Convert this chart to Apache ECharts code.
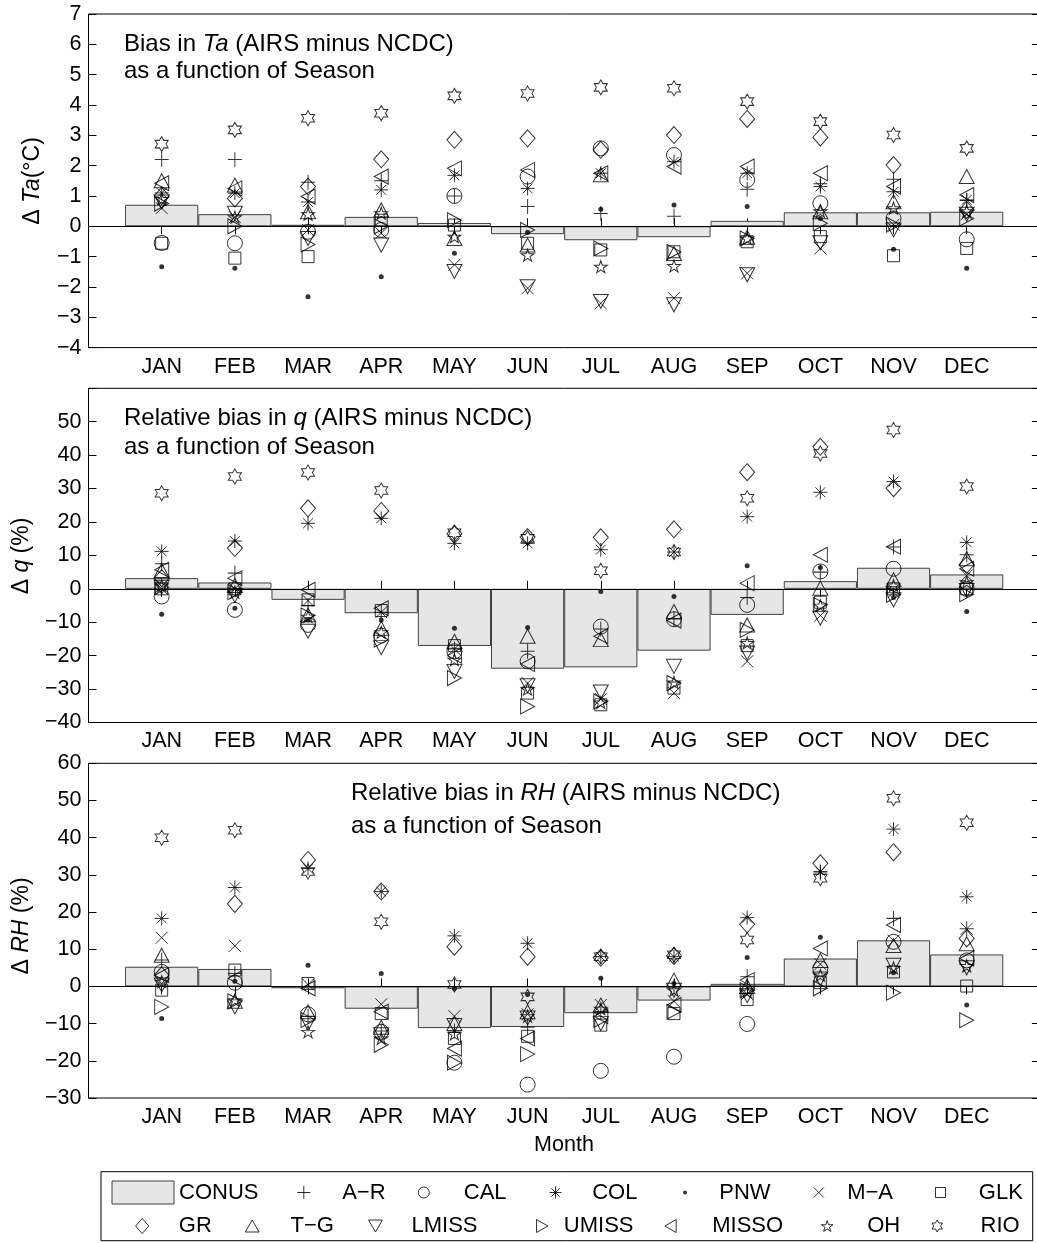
<!DOCTYPE html>
<html><head><meta charset="utf-8">
<script src="https://cdn.jsdelivr.net/npm/echarts@6/dist/echarts.min.js"></script>
<style>html,body{margin:0;padding:0;background:#fff}#c{width:1037px;height:1243px}</style>
</head><body><div id="c"></div>
<script>
// ---------------- DATA ----------------
const months = ['JAN','FEB','MAR','APR','MAY','JUN','JUL','AUG','SEP','OCT','NOV','DEC'];
const legendNames = ['CONUS','A\u2212R','CAL','COL','PNW','M\u2212A','GLK','GR','T\u2212G','LMISS','UMISS','MISSO','OH','RIO'];

const taTicks = [-4,-3,-2,-1,0,1,2,3,4,5,6,7];
const qTicks  = [-40,-30,-20,-10,0,10,20,30,40,50,60];
const rhTicks = [-30,-20,-10,0,10,20,30,40,50,60];

// Panel 1: Bias in Ta (deg C)
const taCONUS = [0.71, 0.40, 0.05, 0.31, 0.11, -0.26, -0.46, -0.36, 0.18, 0.46, 0.46, 0.48];
const taAR    = [2.2, 2.2, 1.45, 1.5, 1.0, 0.65, 0.42, 0.33, 1.22, 1.4, 1.55, 0.85];
const taCAL   = [-0.55, -0.56, -0.18, -0.12, 1.0, 1.64, 2.57, 2.35, 1.53, 0.76, 0.26, -0.43];
const taCOL   = [1.1, 1.09, 0.8, 1.2, 1.68, 1.25, 1.75, 2.13, 1.75, 1.31, 1.14, 0.87];
const taPNW   = [-1.33, -1.38, -2.32, -1.66, -0.89, -0.2, 0.56, 0.7, 0.65, 0.26, -0.76, -1.38];
const taMA    = [0.6, 0.3, -0.12, -0.23, -1.27, -2.04, -2.54, -2.37, -1.55, -0.73, 0.05, 0.4];
const taGLK   = [-0.56, -1.05, -1.0, 0.2, 0.04, -0.56, -0.78, -0.84, -0.51, -0.34, -0.97, -0.73];
const taGR    = [1.0, 0.92, 1.31, 2.21, 2.85, 2.9, 2.52, 3.01, 3.54, 2.93, 2.02, 0.54];
const taTG    = [1.5, 1.36, 0.48, 0.54, -0.4, -0.62, 1.7, -0.9, -0.36, 0.48, 0.81, 1.64];
const taLMISS = [0.8, 0.43, -0.4, -0.62, -1.49, -1.99, -2.48, -2.59, -1.6, -0.54, -0.12, 0.4];
const taUMISS = [0.75, 0.0, -0.6, 0.0, 0.2, -0.12, -0.73, -0.85, -0.4, 0.1, 0.05, 0.26];
const taMISSO = [1.42, 1.25, 0.98, 1.64, 1.91, 1.86, 1.75, 1.97, 1.97, 1.75, 1.31, 1.03];
const taOH    = [0.9, 0.3, 0.4, 0.43, -0.34, -0.95, -1.33, -1.31, -0.4, 0.5, 0.6, 0.5];
const taRIO   = [2.71, 3.18, 3.56, 3.73, 4.3, 4.38, 4.58, 4.55, 4.11, 3.45, 3.01, 2.57];

// Panel 2: Relative bias in q (%)
const qCONUS = [3.2, 1.9, -3.3, -7.3, -17.1, -23.9, -23.5, -18.5, -7.8, 2.3, 6.3, 4.3];
const qAR    = [7.5, 4.7, -5, -7, -18, -18.7, -12, -9, -2.6, 5, 12.5, 10.2];
const qCAL   = [-2.3, -6.3, -10.8, -14, -18.7, -21.7, -11.3, -9.1, -4.8, 5.2, 6.0, 0];
const qCOL   = [11.2, 14.3, 19.6, 21.1, 13.6, 13.6, 11.7, 11.0, 21.6, 28.9, 32.1, 13.9];
const qPNW   = [-7.6, -5.8, -9.3, -9.3, -11.8, -11.6, -0.8, -2.3, 6.9, 6.4, -2.6, -6.8];
const qMA    = [0, 0, -3.5, -7, -18, -28.2, -33, -31.2, -21.7, -8, -1, 4];
const qGLK   = [0, 0, -3.3, -6.5, -17, -31.2, -34.7, -29.7, -17, -4, 0, 0];
const qGR    = [3.2, 12.2, 24.1, 23.3, 16.5, 15.5, 15.4, 17.8, 34.9, 42.5, 30.1, 7.2];
const qTG    = [5.5, 1, -7.8, -11.8, -15.7, -14.2, -15.2, -6.8, -10.8, 0.2, 2.7, 9];
const qLMISS = [0.5, -2, -12.7, -17.6, -24.7, -29, -30.9, -23.2, -19.2, -8.8, -3.3, -0.5];
const qUMISS = [0.5, -1, -8, -15.2, -26.7, -35.2, -33.7, -28.2, -12.3, -4.8, -1.8, -1.6];
const qMISSO = [5.7, 3.2, -0.3, -5.8, -20, -22.5, -14.2, -9.5, 1.7, 10.2, 12.6, 6];
const qOH    = [1, -1, -8.3, -13, -21.2, -30, -34, -28, -16.2, -5, 1, 2];
const qRIO   = [28.6, 33.6, 34.8, 29.4, 16.8, 15.1, 5.4, 11, 27.1, 40.5, 47.5, 30.6];

// Panel 3: Relative bias in RH (%)
const rhCONUS = [5.3, 4.7, -0.5, -6, -11.2, -10.9, -7.2, -3.8, 0.7, 7.5, 12.4, 8.6];
const rhAR    = [7.1, 3.5, -8, -12, -12, -11, -6.8, 0, 2.6, 30.5, 18.3, 15.5];
const rhCAL   = [3.9, 1, -7.5, -12.2, -20.5, -26.4, -22.7, -18.9, -10.1, 4.8, 12, 7];
const rhCOL   = [18.3, 26.6, 31.7, 25.5, 13.6, 11.6, 8, 8, 18.5, 30.9, 42.3, 24.1];
const rhPNW   = [-8.6, 1.4, 5.7, 3.5, -0.5, -2.2, 2.2, 0.8, 7.8, 13.2, 3.7, -5];
const rhMA    = [13.1, 10.9, 0.5, -4.8, -8, -7.5, -5, -4, -2, 6, 12.3, 15.5];
const rhGLK   = [-1, 4.4, 0.8, -7.3, -14, -13.4, -10.4, -7.3, -3.5, 1, 3.9, 0.1];
const rhGR    = [3, 22.2, 34, 25.5, 10.7, 8, 7.7, 8.2, 16.7, 33.1, 36.1, 12.9];
const rhTG    = [8.4, -4, -6.8, -11, -10, -6.8, -5, 1.7, 0, 7, 11, 11.5];
const rhLMISS = [0.4, -5.5, -10, -13, -10.5, -8.5, -10, -1, -2.5, 2, 5.7, 5];
const rhUMISS = [-5.5, -4, -9, -15.7, -20.5, -18.2, -9, -6.8, -1, -0.5, -1.7, -9.1];
const rhMISSO = [3, 2.2, -0.5, -6.8, -16.7, -14, -8, -5, 1.7, 10.2, 16.5, 7.5];
const rhOH    = [1.3, -3.7, -12.2, -14, -12.8, -8, -6, -1, -1.4, 3, 5, 5.5];
const rhRIO   = [40, 42, 30.9, 17.4, 0.5, -2.8, 8, 8.5, 12.5, 29.1, 50.6, 44];

// ---------------- BUILD ----------------
const F = "'Liberation Sans', Arial, Helvetica, sans-serif";
const xCats = [' '].concat(months, ['  ']);
const fmt = v => v < 0 ? '\u2212' + Math.abs(v) : String(v);

function group(c, ar, cal, col, pnw, ma, glk, gr, tg, lm, um, mi, oh, rio) {
  const arrs = [c, ar, cal, col, pnw, ma, glk, gr, tg, lm, um, mi, oh, rio];
  const o = {};
  legendNames.forEach((n, i) => { o[n] = arrs[i]; });
  return o;
}
const panels = [
  { vals: group(taCONUS, taAR, taCAL, taCOL, taPNW, taMA, taGLK, taGR, taTG, taLMISS, taUMISS, taMISSO, taOH, taRIO),
    ticks: taTicks, top: 14, height: 333.6, hideTop: false },
  { vals: group(qCONUS, qAR, qCAL, qCOL, qPNW, qMA, qGLK, qGR, qTG, qLMISS, qUMISS, qMISSO, qOH, qRIO),
    ticks: qTicks, top: 388.3, height: 334.2, hideTop: true },
  { vals: group(rhCONUS, rhAR, rhCAL, rhCOL, rhPNW, rhMA, rhGLK, rhGR, rhTG, rhLMISS, rhUMISS, rhMISSO, rhOH, rhRIO),
    ticks: rhTicks, top: 763.3, height: 334.7, hideTop: false }
];

const HEX = 'path://M50,0L64.43,25L93.3,25L78.87,50L93.3,75L64.43,75L50,100L35.57,75L6.7,75L21.13,50L6.7,25L35.57,25Z';
const PENT = 'path://M50,0L61.23,34.55L97.55,34.55L68.17,55.9L79.39,90.45L50,69.1L20.61,90.45L31.83,55.9L2.45,34.55L38.77,34.55Z';
// aspect = width/height of the symbol outline (used to place the legend icons)
const SYM = {
  'A\u2212R': { symbol: 'path://M50,0L50,100M0,50L100,50', size: [14, 15], aspect: 1 },
  'CAL':  { symbol: 'circle', size: 15, aspect: 1 },
  'COL':  { symbol: 'path://M50,0L50,100M0,50L100,50M15,15L85,85M85,15L15,85', size: 14, aspect: 1 },
  'PNW':  { symbol: 'circle', size: 5, filled: true, aspect: 1 },
  'M\u2212A': { symbol: 'path://M0,0L100,100M100,0L0,100', size: 12, aspect: 1 },
  'GLK':  { symbol: 'path://M0,0L100,0L100,100L0,100Z', size: 12, aspect: 1 },
  'GR':   { symbol: 'path://M44,0L88,50L44,100L0,50Z', size: [15, 17], aspect: 0.88 },
  'T\u2212G': { symbol: 'path://M50,0L100,87L0,87Z', size: [15, 14], aspect: 1.149 },
  'LMISS':{ symbol: 'path://M0,0L100,0L50,87Z', size: [15, 14], aspect: 1.149 },
  'UMISS':{ symbol: 'path://M0,0L87,50L0,100Z', size: [14, 15], aspect: 0.87 },
  'MISSO':{ symbol: 'path://M87,0L0,50L87,100Z', size: [14, 15], aspect: 0.87 },
  'OH':   { symbol: PENT, size: [13, 12], aspect: 1.051 },
  'RIO':  { symbol: HEX, size: [13, 15], aspect: 0.866 }
};

const grids = [], xAxes = [], yAxes = [], series = [];
panels.forEach((p, pi) => {
  grids.push({ left: 88.5, top: p.top, width: 951.4, height: p.height, show: true,
    borderColor: '#000', borderWidth: 1, backgroundColor: 'transparent',
    containLabel: false, outerBoundsMode: 'none' });
  const tickCfg = { show: true, inside: true, length: 8, interval: 0, lineStyle: { color: '#000', width: 1 } };
  xAxes.push({ type: 'category', gridIndex: pi, data: xCats, boundaryGap: false, position: 'bottom',
    axisLine: { show: false }, axisTick: tickCfg, splitLine: { show: false },
    axisLabel: { interval: 0, fontSize: 21.5, fontFamily: F, color: '#000', margin: 8 } });
  xAxes.push({ type: 'category', gridIndex: pi, data: xCats, boundaryGap: false, position: 'top',
    axisLine: { show: false }, axisTick: tickCfg, splitLine: { show: false }, axisLabel: { show: false } });
  const t = p.ticks, mn = t[0], mx = t[t.length - 1], step = t[1] - t[0];
  const yTick = { show: true, inside: true, length: 8, lineStyle: { color: '#000', width: 1 } };
  yAxes.push({ type: 'value', gridIndex: pi, min: mn, max: mx, interval: step, position: 'left',
    axisLine: { show: false }, axisTick: yTick, splitLine: { show: false },
    axisLabel: { fontSize: 21.5, fontFamily: F, color: '#000', margin: 7,
      formatter: v => (p.hideTop && v === mx) ? '' : fmt(v) } });
  yAxes.push({ type: 'value', gridIndex: pi, min: mn, max: mx, interval: step, position: 'right',
    axisLine: { show: false }, axisTick: yTick, splitLine: { show: false }, axisLabel: { show: false } });

  series.push({
    type: 'bar', name: 'CONUS', xAxisIndex: 2 * pi, yAxisIndex: 2 * pi,
    data: months.map((m, i) => [m, p.vals['CONUS'][i]]),
    barCategoryGap: '0%', silent: true, animation: false, z: 1,
    itemStyle: { color: '#e6e6e6', borderColor: '#404040', borderWidth: 1 },
    emphasis: { disabled: true },
    markLine: { silent: true, symbol: ['none', 'none'], label: { show: false }, animation: false,
      lineStyle: { color: '#000', width: 1, type: 'solid' }, data: [{ yAxis: 0 }] }
  });
  legendNames.slice(1).forEach(n => {
    const s = SYM[n];
    series.push({
      type: 'scatter', name: n, xAxisIndex: 2 * pi, yAxisIndex: 2 * pi,
      data: months.map((m, i) => [m, p.vals[n][i]]),
      symbol: s.symbol, symbolSize: s.size, silent: true, animation: false, z: 3,
      itemStyle: s.filled ? { color: '#000', borderWidth: 0 }
                          : { color: 'rgba(0,0,0,0)', borderColor: '#000', borderWidth: 1 },
      emphasis: { disabled: true }
    });
  });
});

// legend: one component per entry; [name, icon centre x, text start x, row, icon height]
const legendLayout = [
  ['CONUS', 142.5, 181, 0, 23],
  ['A\u2212R', 303.3, 341.7, 0, 13],
  ['CAL', 423.3, 463.3, 0, 11],
  ['COL', 555, 591.7, 0, 12],
  ['PNW', 685, 719.3, 0, 4],
  ['M\u2212A', 818.3, 846.7, 0, 10],
  ['GLK', 940, 978.3, 0, 10],
  ['GR', 141.7, 178.3, 1, 15],
  ['T\u2212G', 251.7, 290, 1, 12],
  ['LMISS', 375, 411, 1, 12],
  ['UMISS', 541.7, 563.3, 1, 13],
  ['MISSO', 670, 711.7, 1, 13],
  ['OH', 826.7, 866.7, 1, 11],
  ['RIO', 936.7, 980, 1, 12]
];
const rowCenter = [1192.5, 1226];
const legends = legendLayout.map(([n, c, ts, row, h]) => {
  let itemStyle, w, iconW;
  if (n === 'CONUS') {
    itemStyle = { color: '#e6e6e6', borderColor: '#404040', borderWidth: 1 };
    w = 62; iconW = 62;
  } else {
    itemStyle = n === 'PNW' ? { color: '#000', borderWidth: 0 }
                            : { color: 'rgba(0,0,0,0)', borderColor: '#000', borderWidth: 1 };
    w = 2 * (ts - c - 5);
    iconW = h * SYM[n].aspect;
  }
  return {
    data: [n === 'CONUS' ? { name: n, icon: 'rect' } : n],
    left: c - iconW / 2, top: rowCenter[row] - 13, padding: 0, itemGap: 0,
    itemWidth: w, itemHeight: h, symbolKeepAspect: true, selectedMode: false,
    itemStyle: itemStyle,
    textStyle: { fontSize: 22, fontFamily: F, color: '#000', lineHeight: 26 }
  };
});

function txt(x, y, text, size, rich, rot) {
  const r = {};
  Object.keys(rich || {}).forEach(k => { r[k] = Object.assign({ fontSize: size, fontFamily: F, fill: '#000', color: '#000' }, rich[k]); });
  return {
    type: 'text', x: x, y: y, rotation: rot || 0, silent: true, z: 10,
    style: { text: text, fontSize: size, fontFamily: F, fill: '#000',
      textAlign: rot ? 'center' : 'left', align: rot ? 'center' : 'left',
      textVerticalAlign: 'middle', verticalAlign: 'middle', rich: r }
  };
}
const IT = { i: { fontStyle: 'italic' } };
const graphics = [
  txt(124, 44.4, 'Bias in {i|Ta} (AIRS minus NCDC)', 24, IT),
  txt(124, 71.0, 'as a function of Season', 24),
  txt(124, 418.4, 'Relative bias in {i|q} (AIRS minus NCDC)', 24, IT),
  txt(124, 447.7, 'as a function of Season', 24),
  txt(351, 793.4, 'Relative bias in {i|RH} (AIRS minus NCDC)', 24, IT),
  txt(351, 826.0, 'as a function of Season', 24),
  txt(33, 181, '\u0394 {i|Ta}(\u00b0C)', 23, IT, Math.PI / 2),
  txt(22, 556, '\u0394 {i|q} (%)', 23, IT, Math.PI / 2),
  txt(22, 926, '\u0394 {i|RH} (%)', 23, IT, Math.PI / 2),
  txt(564, 1145.5, 'Month', 21.5, null, 0.0000001),
  { type: 'rect', silent: true, z: 0,
    shape: { x: 101, y: 1171.7, width: 931.7, height: 69 },
    style: { fill: '#fff', stroke: '#000', lineWidth: 1 } }
];

const chart = echarts.init(document.getElementById('c'), null, { renderer: 'canvas' });
chart.setOption({
  animation: false,
  backgroundColor: '#fff',
  textStyle: { fontFamily: F },
  grid: grids, xAxis: xAxes, yAxis: yAxes, series: series,
  legend: legends, graphic: { elements: graphics }
});
</script></body></html>
